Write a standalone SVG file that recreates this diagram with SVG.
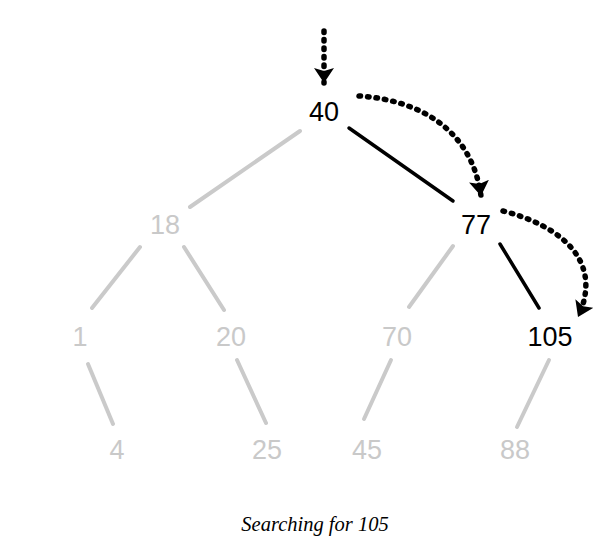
<svg xmlns="http://www.w3.org/2000/svg" width="616" height="552" viewBox="0 0 616 552">
<style>
.t{font-family:"Liberation Sans",Arial,sans-serif;font-size:27px;text-anchor:middle}
.g{fill:#c9c9c9}
.k{fill:#000}
.eg{stroke:#cacaca;stroke-width:4;stroke-linecap:round;fill:none}
.ek{stroke:#000;stroke-width:3.5;stroke-linecap:round;fill:none}
.d{stroke:#000;stroke-width:5.5;stroke-linecap:round;stroke-dasharray:1.5 7;fill:none}
.cap{font-family:"Liberation Serif","Times New Roman",serif;font-style:italic;font-size:20.5px;text-anchor:middle;fill:#000}
</style>
<defs>
<marker id="ah" markerUnits="userSpaceOnUse" markerWidth="24" markerHeight="24" refX="15" refY="10" orient="auto">
<path d="M0,0 L15,10 L0,20 L3,10 Z" fill="#000"/>
</marker>
</defs>
<rect width="616" height="552" fill="#fff"/>
<g id="connectors">
<line class="eg" x1="300" y1="131" x2="190" y2="207"/>
<line class="ek" x1="349" y1="128" x2="453" y2="201"/>
<line class="eg" x1="140" y1="247" x2="92" y2="308"/>
<line class="eg" x1="184" y1="247" x2="224" y2="310"/>
<line class="eg" x1="453" y1="246" x2="409" y2="307"/>
<line class="ek" x1="500" y1="244" x2="539" y2="308"/>
<line class="eg" x1="88" y1="364" x2="113" y2="424"/>
<line class="eg" x1="237" y1="360" x2="266" y2="423"/>
<line class="eg" x1="391" y1="360" x2="364" y2="419"/>
<line class="eg" x1="549" y1="360" x2="517" y2="427"/>
<path class="d" d="M324,31 L324,83" marker-end="url(#ah)"/>
<path class="d" d="M359,96 C420,100 472,130 481,196" marker-end="url(#ah)"/>
<path class="d" d="M503,211 C562,226 604,262 578,317" marker-end="url(#ah)"/>
</g>
<g id="n40"><text class="t k" x="324" y="121">40</text></g>
<g id="n18"><text class="t g" x="165" y="234">18</text></g>
<g id="n77"><text class="t k" x="476" y="234">77</text></g>
<g id="n1"><text class="t g" x="80" y="346">1</text></g>
<g id="n20"><text class="t g" x="231" y="346">20</text></g>
<g id="n70"><text class="t g" x="397" y="346">70</text></g>
<g id="n105"><text class="t k" x="550" y="346">105</text></g>
<g id="n4"><text class="t g" x="117" y="459">4</text></g>
<g id="n25"><text class="t g" x="267" y="459">25</text></g>
<g id="n45"><text class="t g" x="367" y="459">45</text></g>
<g id="n88"><text class="t g" x="515" y="459">88</text></g>
<text class="cap" x="315" y="531">Searching for 105</text>
</svg>
